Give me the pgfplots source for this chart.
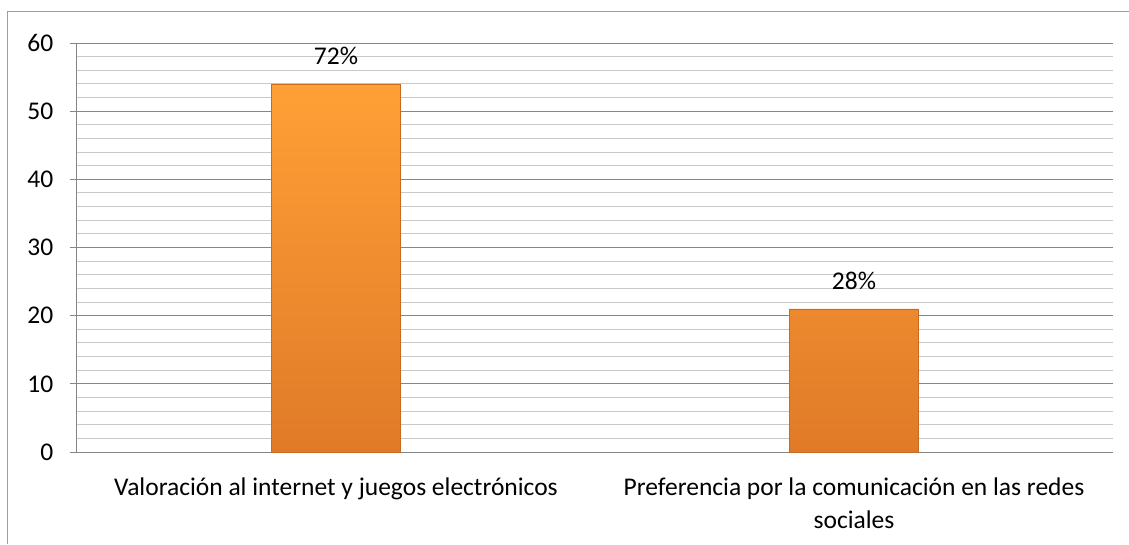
\documentclass[border=0pt]{standalone}
\usepackage{pgfplots}
\pgfplotsset{compat=1.18}
\usepackage{fontspec}
\setmainfont{Carlito}
\definecolor{majg}{HTML}{868686}
\definecolor{ming}{HTML}{C8C8C8}
\definecolor{bartop}{HTML}{FFA036}
\definecolor{barbot}{HTML}{E07A28}
\definecolor{baredge}{HTML}{C86A20}
\begin{document}
\fontsize{25.5}{33}\selectfont
\begin{tikzpicture}
\useasboundingbox (-77pt,-92pt) rectangle (1052pt,452pt);
\draw[color=majg!80, line width=1pt] (-69pt,-92pt) -- (-69pt,440pt) -- (1052pt,440pt);
\begin{axis}[
  at={(0pt,0pt)}, anchor=south west,
  scale only axis, width=1036pt, height=409pt,
  xmin=-0.5, xmax=1.5, ymin=0, ymax=60,
  ytick={0,10,...,60}, minor y tick num=4,
  xtick={0,1},
  /pgf/number format/assume math mode=true,
  xticklabels={Valoración al internet y juegos electrónicos, {Preferencia por la comunicación en las redes\\sociales}},
  xticklabel style={align=center, font=\fontsize{25.5}{33}\selectfont, yshift=-10pt},
  yticklabel style={font=\fontsize{25.5}{33}\selectfont, xshift=-8pt},
  axis x line*=bottom, axis y line*=left,
  axis line style={-, draw=majg, line width=1pt},
  tick align=outside,
  major tick length=7pt, minor tick length=0pt,
  x tick style={draw=none},
  y tick style={draw=majg, line width=1pt},
  ymajorgrids, yminorgrids,
  major grid style={draw=majg, line width=1pt},
  minor grid style={draw=ming, line width=1pt},
  clip=false,
]
\addplot[ybar, bar width=0.25, draw=baredge, line width=0.6pt,
  top color=bartop, bottom color=barbot,
  nodes near coords, point meta=explicit symbolic,
  nodes near coords style={font=\fontsize{25.5}{33}\selectfont, text=black, yshift=10pt}]
  coordinates {(0,54)[72\%] (1,21)[28\%]};
\end{axis}
\end{tikzpicture}
\end{document}
